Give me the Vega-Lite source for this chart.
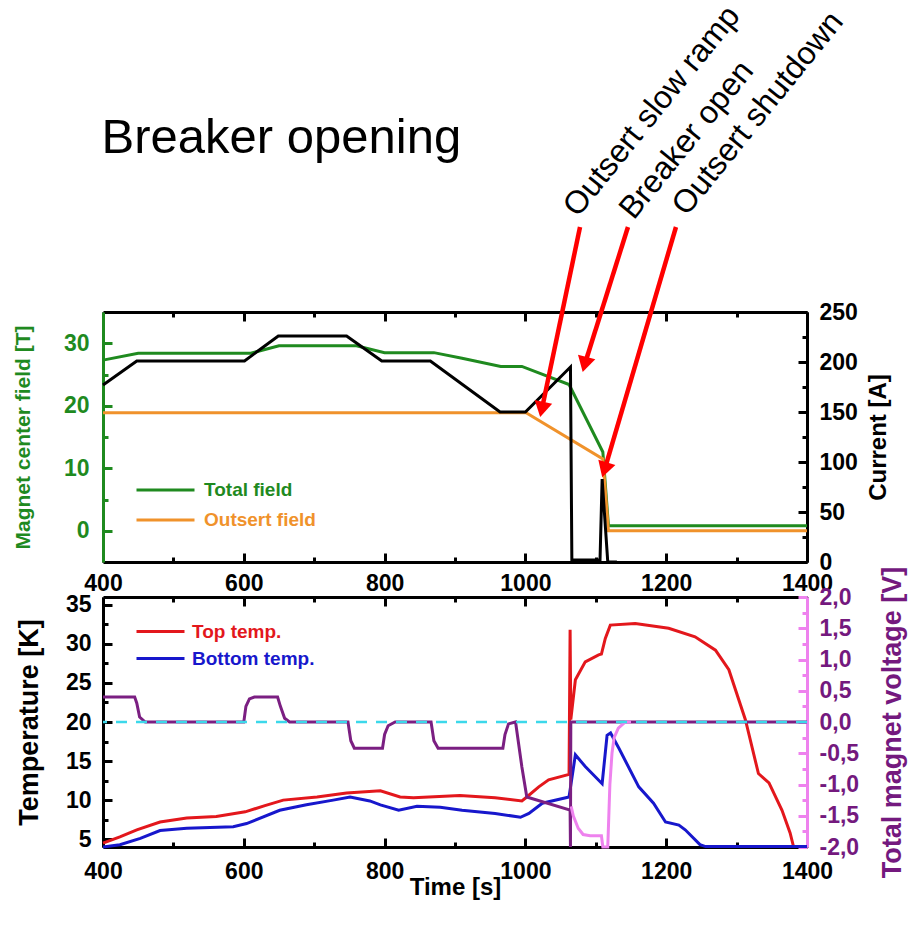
{
  "$schema": "https://vega.github.io/schema/vega-lite/v6.json",
  "autosize": {"type": "none"},
  "padding": {"left": 103, "top": 312, "right": 821, "bottom": 625},
  "background": "white",
  "config": {
    "font": "Liberation Sans",
    "view": {"stroke": null},
    "axis": {
      "labelFont": "Liberation Sans", "labelFontWeight": "bold", "labelFontSize": 23,
      "titleFont": "Liberation Sans", "titleFontWeight": "bold",
      "grid": false, "domainWidth": 3, "tickWidth": 3, "labelOverlap": false,
      "labelColor": "black", "titleColor": "black", "tickColor": "black", "domainColor": "black"
    }
  },
  "datasets": {
    "field": [
      {"t": 400, "B": 27.3, "series": "Total field"}, {"t": 450, "B": 28.4, "series": "Total field"},
      {"t": 610, "B": 28.4, "series": "Total field"}, {"t": 650, "B": 29.6, "series": "Total field"},
      {"t": 760, "B": 29.6, "series": "Total field"}, {"t": 800, "B": 28.5, "series": "Total field"},
      {"t": 870, "B": 28.5, "series": "Total field"}, {"t": 910, "B": 27.6, "series": "Total field"},
      {"t": 965, "B": 26.3, "series": "Total field"}, {"t": 995, "B": 26.3, "series": "Total field"},
      {"t": 1062, "B": 23.4, "series": "Total field"}, {"t": 1110, "B": 12.6, "series": "Total field"},
      {"t": 1118, "B": 0.8, "series": "Total field"}, {"t": 1400, "B": 0.8, "series": "Total field"},
      {"t": 400, "B": 18.9, "series": "Outsert field"}, {"t": 1001, "B": 18.9, "series": "Outsert field"},
      {"t": 1110, "B": 11.5, "series": "Outsert field"}, {"t": 1118, "B": 0.0, "series": "Outsert field"},
      {"t": 1400, "B": 0.0, "series": "Outsert field"}
    ],
    "current": [
      {"t": 400, "I": 177}, {"t": 448, "I": 201}, {"t": 601, "I": 201}, {"t": 649, "I": 226},
      {"t": 746, "I": 226}, {"t": 796, "I": 201}, {"t": 865, "I": 201}, {"t": 964, "I": 150},
      {"t": 1000, "I": 150}, {"t": 1064, "I": 195}, {"t": 1066, "I": 2}, {"t": 1106, "I": 2},
      {"t": 1109, "I": 83}, {"t": 1117, "I": 0}, {"t": 1130, "I": 0}
    ],
    "notes": [
      {"label": "Outsert slow ramp", "tx": 1074.5, "ty": 50.0, "ax": 1077.6, "ay": 48.6, "hx": 1023.3, "hy": 19.4},
      {"label": "Breaker open", "tx": 1154.0, "ty": 49.6, "ax": 1145.7, "ay": 48.6, "hx": 1084.2, "hy": 26.6},
      {"label": "Outsert shutdown", "tx": 1229.0, "ty": 50.2, "ax": 1213.9, "ay": 48.6, "hx": 1112.4, "hy": 9.75}
    ],
    "heading": [{"text": "Breaker opening", "t": 398, "B": 60.5}],
    "temps": [
      {"t": 400, "K": 4.5, "series": "Top temp."}, {"t": 424, "K": 5.3, "series": "Top temp."},
      {"t": 448, "K": 6.2, "series": "Top temp."}, {"t": 481, "K": 7.2, "series": "Top temp."},
      {"t": 519, "K": 7.7, "series": "Top temp."}, {"t": 561, "K": 7.9, "series": "Top temp."},
      {"t": 602, "K": 8.5, "series": "Top temp."}, {"t": 630, "K": 9.3, "series": "Top temp."},
      {"t": 656, "K": 10.0, "series": "Top temp."}, {"t": 704, "K": 10.4, "series": "Top temp."},
      {"t": 746, "K": 10.9, "series": "Top temp."}, {"t": 794, "K": 11.2, "series": "Top temp."},
      {"t": 822, "K": 10.4, "series": "Top temp."}, {"t": 841, "K": 10.3, "series": "Top temp."},
      {"t": 907, "K": 10.6, "series": "Top temp."}, {"t": 957, "K": 10.3, "series": "Top temp."},
      {"t": 995, "K": 9.9, "series": "Top temp."}, {"t": 1002, "K": 10.4, "series": "Top temp."},
      {"t": 1019, "K": 11.7, "series": "Top temp."}, {"t": 1033, "K": 12.6, "series": "Top temp."},
      {"t": 1062, "K": 13.3, "series": "Top temp."}, {"t": 1063.5, "K": 31.8, "series": "Top temp."},
      {"t": 1064.5, "K": 20.3, "series": "Top temp."}, {"t": 1071, "K": 25.4, "series": "Top temp."},
      {"t": 1085, "K": 27.7, "series": "Top temp."}, {"t": 1104, "K": 28.6, "series": "Top temp."},
      {"t": 1108, "K": 28.7, "series": "Top temp."}, {"t": 1113.5, "K": 30.7, "series": "Top temp."},
      {"t": 1120.6, "K": 32.4, "series": "Top temp."}, {"t": 1156, "K": 32.6, "series": "Top temp."},
      {"t": 1203.5, "K": 32.0, "series": "Top temp."}, {"t": 1241, "K": 30.9, "series": "Top temp."},
      {"t": 1270, "K": 29.2, "series": "Top temp."}, {"t": 1289, "K": 26.7, "series": "Top temp."},
      {"t": 1312.5, "K": 20.3, "series": "Top temp."}, {"t": 1331, "K": 13.4, "series": "Top temp."},
      {"t": 1346, "K": 12.2, "series": "Top temp."}, {"t": 1364.5, "K": 8.7, "series": "Top temp."},
      {"t": 1376, "K": 5.8, "series": "Top temp."}, {"t": 1381, "K": 4.0, "series": "Top temp."},
      {"t": 400, "K": 4.0, "series": "Bottom temp."}, {"t": 424, "K": 4.3, "series": "Bottom temp."},
      {"t": 453, "K": 5.1, "series": "Bottom temp."}, {"t": 481, "K": 6.1, "series": "Bottom temp."},
      {"t": 519, "K": 6.4, "series": "Bottom temp."}, {"t": 585, "K": 6.6, "series": "Bottom temp."},
      {"t": 604, "K": 7.0, "series": "Bottom temp."}, {"t": 651, "K": 8.7, "series": "Bottom temp."},
      {"t": 689, "K": 9.4, "series": "Bottom temp."}, {"t": 727, "K": 10.0, "series": "Bottom temp."},
      {"t": 751, "K": 10.4, "series": "Bottom temp."}, {"t": 779, "K": 9.9, "series": "Bottom temp."},
      {"t": 794, "K": 9.4, "series": "Bottom temp."}, {"t": 820, "K": 8.7, "series": "Bottom temp."},
      {"t": 846, "K": 9.2, "series": "Bottom temp."}, {"t": 879, "K": 9.1, "series": "Bottom temp."},
      {"t": 910, "K": 8.7, "series": "Bottom temp."}, {"t": 957, "K": 8.3, "series": "Bottom temp."},
      {"t": 993, "K": 7.8, "series": "Bottom temp."}, {"t": 1005, "K": 8.3, "series": "Bottom temp."},
      {"t": 1024, "K": 9.6, "series": "Bottom temp."}, {"t": 1062, "K": 10.4, "series": "Bottom temp."},
      {"t": 1071, "K": 15.8, "series": "Bottom temp."}, {"t": 1085, "K": 14.3, "series": "Bottom temp."},
      {"t": 1109, "K": 12.1, "series": "Bottom temp."}, {"t": 1116, "K": 18.3, "series": "Bottom temp."},
      {"t": 1121, "K": 18.6, "series": "Bottom temp."}, {"t": 1133, "K": 16.6, "series": "Bottom temp."},
      {"t": 1161, "K": 11.7, "series": "Bottom temp."}, {"t": 1182, "K": 9.6, "series": "Bottom temp."},
      {"t": 1199, "K": 7.2, "series": "Bottom temp."}, {"t": 1218, "K": 6.8, "series": "Bottom temp."},
      {"t": 1227, "K": 6.2, "series": "Bottom temp."}, {"t": 1248, "K": 4.3, "series": "Bottom temp."},
      {"t": 1256, "K": 4.05, "series": "Bottom temp."}, {"t": 1400, "K": 4.05, "series": "Bottom temp."}
    ],
    "vmain": [
      {"t": 400, "V": 0.4}, {"t": 445, "V": 0.4}, {"t": 448, "V": 0.3}, {"t": 452, "V": 0.08},
      {"t": 460, "V": 0.0}, {"t": 600, "V": 0.0}, {"t": 603, "V": 0.25}, {"t": 608, "V": 0.37},
      {"t": 615, "V": 0.4}, {"t": 648, "V": 0.4}, {"t": 652, "V": 0.25}, {"t": 658, "V": 0.06},
      {"t": 665, "V": 0.0}, {"t": 748, "V": 0.0}, {"t": 752, "V": -0.3}, {"t": 757, "V": -0.42},
      {"t": 797, "V": -0.42}, {"t": 800, "V": -0.2}, {"t": 805, "V": -0.06}, {"t": 815, "V": 0.0},
      {"t": 866, "V": 0.0}, {"t": 870, "V": -0.3}, {"t": 876, "V": -0.42}, {"t": 968, "V": -0.42},
      {"t": 971, "V": -0.2}, {"t": 976, "V": -0.03}, {"t": 986, "V": 0.0}, {"t": 995, "V": -0.72},
      {"t": 1002, "V": -1.2}, {"t": 1063.5, "V": -1.41}, {"t": 1064, "V": -2.0}, {"t": 1064.5, "V": 0.0},
      {"t": 1400, "V": 0.0}
    ],
    "vpink": [
      {"t": 1065, "V": -1.35}, {"t": 1068, "V": -1.5}, {"t": 1075, "V": -1.7}, {"t": 1082, "V": -1.8},
      {"t": 1092, "V": -1.82}, {"t": 1108, "V": -1.82}, {"t": 1110, "V": -2.0}, {"t": 1117, "V": -2.0},
      {"t": 1120, "V": -1.0}, {"t": 1123, "V": -0.5}, {"t": 1126, "V": -0.25}, {"t": 1132, "V": -0.1},
      {"t": 1142, "V": 0.0}, {"t": 1150, "V": 0.0}
    ],
    "zero": [{"V": 0}]
  },
  "vconcat": [
    {
      "width": 704,
      "height": 250,
      "layer": [
        {
          "data": {"name": "field"},
          "mark": {"type": "line", "strokeWidth": 3},
          "encoding": {
            "x": {"field": "t", "type": "quantitative", "scale": {"domain": [400, 1400], "nice": false, "zero": false},
              "axis": {"orient": "bottom", "title": null, "values": [400, 500, 600, 700, 800, 900, 1000, 1100, 1200, 1300, 1400],
                "format": "d", "labelExpr": "datum.value % 200 === 0 ? datum.label : ''",
                "tickSize": {"condition": {"test": "datum.value % 200 === 0", "value": -9}, "value": -5},
                "labelPadding": 19, "labelOverlap": false, "labelFlush": false}},
            "y": {"field": "B", "type": "quantitative", "scale": {"domain": [-5, 35], "nice": false, "zero": false},
              "axis": {"orient": "left", "title": "Magnet center field [T]", "titleFontSize": 21, "titleColor": "#1f8a1f",
                "labelColor": "#1f8a1f", "domainColor": "#1f8a1f", "tickColor": "#1f8a1f",
                "values": [0, 5, 10, 15, 20, 25, 30], "format": "d",
                "labelExpr": "datum.value % 10 === 0 ? datum.label : ''",
                "tickSize": {"condition": {"test": "datum.value % 10 === 0", "value": -9}, "value": -5},
                "labelPadding": 23, "titlePadding": 30, "labelOverlap": false, "labelFlush": false}},
            "color": {"field": "series", "type": "nominal",
              "scale": {"domain": ["Total field", "Outsert field"], "range": ["#1f8a1f", "#f0922b"]},
              "legend": {"orient": "none", "legendX": 32, "legendY": 163, "title": null, "symbolType": "stroke",
                "symbolSize": 3364, "symbolStrokeWidth": 3, "labelFont": "Liberation Sans", "labelFontSize": 19,
                "labelFontWeight": "bold", "labelOffset": 8, "clipHeight": 30, "rowPadding": 0, "padding": 0,
                "encode": {"labels": {"update": {"fill": {"signal": "datum.value === 'Total field' ? '#1f8a1f' : '#f0922b'"}}}}}}
          }
        },
        {
          "data": {"name": "current"},
          "mark": {"type": "line", "strokeWidth": 3, "color": "black"},
          "encoding": {
            "x": {"field": "t", "type": "quantitative", "scale": {"domain": [400, 1400], "nice": false, "zero": false},
              "axis": {"orient": "top", "title": null, "labels": false,
                "values": [400, 500, 600, 700, 800, 900, 1000, 1100, 1200, 1300, 1400],
                "tickSize": {"condition": {"test": "datum.value % 200 === 0", "value": -9}, "value": -5}}},
            "y": {"field": "I", "type": "quantitative", "scale": {"domain": [0, 250], "nice": false, "zero": false},
              "axis": {"orient": "right", "title": "Current [A]", "titleFontSize": 24, "titleAngle": 270,
                "values": [0, 25, 50, 75, 100, 125, 150, 175, 200, 225, 250], "format": "d",
                "labelExpr": "datum.value % 50 === 0 ? datum.label : ''",
                "tickSize": {"condition": {"test": "datum.value % 50 === 0", "value": -9}, "value": -5},
                "labelPadding": 21, "titlePadding": 33, "labelOverlap": false, "labelFlush": false}}
          }
        },
        {
          "data": {"name": "notes"},
          "mark": {"type": "rule", "color": "#ff0000", "strokeWidth": 4.5},
          "encoding": {
            "x": {"field": "ax", "type": "quantitative", "scale": {"domain": [400, 1400], "nice": false, "zero": false}, "axis": null},
            "x2": {"field": "hx"},
            "y": {"field": "ay", "type": "quantitative", "scale": {"domain": [-5, 35], "nice": false, "zero": false}, "axis": null},
            "y2": {"field": "hy"}
          }
        },
        {
          "data": {"name": "notes"},
          "mark": {"type": "point", "shape": "triangle-down", "filled": true, "color": "#ff0000", "size": 320, "opacity": 1},
          "encoding": {
            "x": {"field": "hx", "type": "quantitative", "scale": {"domain": [400, 1400], "nice": false, "zero": false}, "axis": null},
            "y": {"field": "hy", "type": "quantitative", "scale": {"domain": [-5, 35], "nice": false, "zero": false}, "axis": null},
            "angle": {"field": "label", "type": "nominal",
              "scale": {"domain": ["Outsert slow ramp", "Breaker open", "Outsert shutdown"], "range": [12, 17.5, 16.4]},
              "legend": null}
          }
        },
        {
          "data": {"name": "notes"},
          "mark": {"type": "text", "angle": -51, "align": "left", "baseline": "alphabetic", "fontSize": 32,
            "font": "Liberation Sans", "color": "black"},
          "encoding": {
            "x": {"field": "tx", "type": "quantitative", "scale": {"domain": [400, 1400], "nice": false, "zero": false}, "axis": null},
            "y": {"field": "ty", "type": "quantitative", "scale": {"domain": [-5, 35], "nice": false, "zero": false}, "axis": null},
            "text": {"field": "label"}
          }
        },
        {
          "data": {"name": "heading"},
          "mark": {"type": "text", "align": "left", "baseline": "alphabetic", "fontSize": 49,
            "font": "Liberation Sans", "color": "black"},
          "encoding": {
            "x": {"field": "t", "type": "quantitative", "scale": {"domain": [400, 1400], "nice": false, "zero": false}, "axis": null},
            "y": {"field": "B", "type": "quantitative", "scale": {"domain": [-5, 35], "nice": false, "zero": false}, "axis": null},
            "text": {"field": "text"}
          }
        }
      ],
      "resolve": {"scale": {"y": "independent"}, "axis": {"x": "independent"}}
    },
    {
      "width": 704,
      "height": 250,
      "layer": [
        {
          "data": {"name": "temps"},
          "mark": {"type": "line", "strokeWidth": 3},
          "encoding": {
            "x": {"field": "t", "type": "quantitative", "scale": {"domain": [400, 1400], "nice": false, "zero": false},
              "axis": {"orient": "bottom", "title": "Time [s]", "titleFontSize": 24, "titlePadding": -12,
                "values": [400, 500, 600, 700, 800, 900, 1000, 1100, 1200, 1300, 1400],
                "format": "d", "labelExpr": "datum.value % 200 === 0 ? datum.label : ''",
                "tickSize": {"condition": {"test": "datum.value % 200 === 0", "value": -9}, "value": -5},
                "labelPadding": 22, "labelOverlap": false, "labelFlush": false}},
            "y": {"field": "K", "type": "quantitative", "scale": {"domain": [4, 36], "nice": false, "zero": false},
              "axis": {"orient": "left", "title": "Temperature [K]", "titleFontSize": 27,
                "values": [5, 7.5, 10, 12.5, 15, 17.5, 20, 22.5, 25, 27.5, 30, 32.5, 35], "format": "d",
                "labelExpr": "datum.value % 5 === 0 ? datum.label : ''",
                "tickSize": {"condition": {"test": "datum.value % 5 === 0", "value": -9}, "value": -5},
                "labelPadding": 21, "titlePadding": 22, "labelOverlap": false, "labelFlush": false}},
            "color": {"field": "series", "type": "nominal",
              "scale": {"domain": ["Top temp.", "Bottom temp."], "range": ["#e3171c", "#1717cc"]},
              "legend": {"orient": "none", "legendX": 32, "legendY": 21, "title": null, "symbolType": "stroke",
                "symbolSize": 2304, "symbolStrokeWidth": 3, "labelFont": "Liberation Sans", "labelFontSize": 19,
                "labelFontWeight": "bold", "labelOffset": 6, "clipHeight": 27, "rowPadding": 0, "padding": 0,
                "encode": {"labels": {"update": {"fill": {"signal": "datum.value === 'Top temp.' ? '#e3171c' : '#1717cc'"}}}}}}
          }
        },
        {
          "data": {"name": "vmain"},
          "mark": {"type": "line", "strokeWidth": 3, "color": "#7b1f82"},
          "encoding": {
            "x": {"field": "t", "type": "quantitative", "scale": {"domain": [400, 1400], "nice": false, "zero": false},
              "axis": {"orient": "top", "title": null, "labels": false,
                "values": [400, 500, 600, 700, 800, 900, 1000, 1100, 1200, 1300, 1400],
                "tickSize": {"condition": {"test": "datum.value % 200 === 0", "value": -9}, "value": -5}}},
            "y": {"field": "V", "type": "quantitative", "scale": {"domain": [-2, 2], "nice": false, "zero": false},
              "axis": {"orient": "right", "title": "Total magnet voltage [V]", "titleFontSize": 27, "titleAngle": 270,
                "titleColor": "#74197e", "labelColor": "#74197e", "domainColor": "#ee82ee", "tickColor": "#ee82ee",
                "values": [-2, -1.75, -1.5, -1.25, -1, -0.75, -0.5, -0.25, 0, 0.25, 0.5, 0.75, 1, 1.25, 1.5, 1.75, 2],
                "labelExpr": "abs(datum.value*2 - round(datum.value*2)) < 0.001 ? replace(replace(format(datum.value, '.1f'), '.', ','), '\u2212', '-') : ''",
                "tickSize": {"condition": {"test": "abs(datum.value*2 - round(datum.value*2)) < 0.001", "value": -9}, "value": -5},
                "labelPadding": 21, "titlePadding": 48, "labelOverlap": false, "labelFlush": false}}
          }
        },
        {
          "data": {"name": "vpink"},
          "mark": {"type": "line", "strokeWidth": 3, "color": "#ee82ee"},
          "encoding": {
            "x": {"field": "t", "type": "quantitative", "scale": {"domain": [400, 1400], "nice": false, "zero": false}, "axis": null},
            "y": {"field": "V", "type": "quantitative", "scale": {"domain": [-2, 2], "nice": false, "zero": false}, "axis": null}
          }
        },
        {
          "data": {"name": "zero"},
          "mark": {"type": "rule", "color": "#3cd8ea", "strokeWidth": 2.5, "strokeDash": [11, 9]},
          "encoding": {
            "y": {"field": "V", "type": "quantitative", "scale": {"domain": [-2, 2], "nice": false, "zero": false}, "axis": null}
          }
        }
      ],
      "resolve": {"scale": {"y": "independent"}, "axis": {"x": "independent"}}
    }
  ],
  "spacing": 35,
  "bounds": "flush",
  "resolve": {"scale": {"color": "independent"}, "legend": {"color": "independent"}}
}
